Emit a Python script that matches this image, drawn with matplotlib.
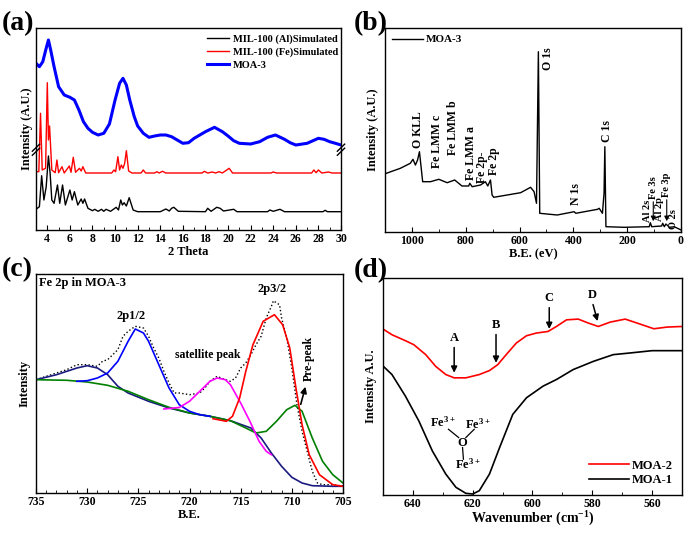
import numpy as np
import matplotlib
matplotlib.use('Agg')
import matplotlib.pyplot as plt
from matplotlib.ticker import MultipleLocator

plt.rcParams['font.family'] = ['Liberation Serif', 'DejaVu Serif']
plt.rcParams['font.weight'] = 'bold'
plt.rcParams['axes.labelweight'] = 'bold'
plt.rcParams['mathtext.default'] = 'regular'
plt.rcParams['axes.linewidth'] = 1.0

#----------------------- (a) XRD data ------------------------
al_x = [3.0, 3.3, 3.5, 3.7, 3.9, 4.1, 4.25, 4.4, 4.6, 4.9, 5.1, 5.35, 5.6, 6.0, 6.2, 6.4,
        6.7, 7.0, 7.15, 7.3, 7.6, 8.0, 8.2, 8.5, 8.8, 9.0, 9.2, 9.6, 10.1, 10.3, 10.5,
        10.65, 10.8, 11.0, 11.25, 11.6, 12.0, 14.0, 14.5, 14.8, 15.0, 15.2, 15.6, 18.0,
        18.2, 18.5, 19.0, 19.3, 19.6, 20.5, 20.8, 23.5, 23.7, 24.0, 24.6, 25.0, 28.4,
        28.6, 28.8, 30.0]
al_y = [20.7, 23.3, 54.3, 30, 43, 74, 56.7, 30, 26.7, 45, 26.7, 45, 25, 40, 30, 38.3,
        25, 31, 26.7, 31, 21.7, 19.3, 20.7, 18.7, 20.7, 18.7, 20.7, 18.7, 22.7, 20, 30,
        25, 27.3, 24, 32.3, 20, 18.3, 18.3, 21, 19, 21.7, 22.7, 18.7, 18.3,
        21.7, 18.7, 22.7, 21.7, 19, 20.7, 18.3, 18.3, 20, 18.7, 20.7, 18.3, 18.3,
        19.7, 18.3, 18.3]

fe_x = [3.0, 3.25, 3.4, 3.55, 3.85, 4.0, 4.1, 4.2, 4.4, 4.7, 4.85, 5.0, 5.3, 5.5, 5.95,
        6.1, 6.3, 6.5, 6.85, 7.0, 7.15, 7.4, 9.7, 9.9, 10.05, 10.25, 10.4, 10.55, 10.7,
        10.85, 11.0, 11.2, 11.5, 12.3, 12.5, 12.7, 13.5, 13.7, 13.9, 14.2, 14.5, 17.7,
        17.9, 18.2, 18.6, 18.9, 19.2, 19.5, 20.1, 20.4, 23.8, 24.0, 24.3, 27.4, 27.6,
        27.8, 28.0, 28.3, 28.9, 29.2, 30.0]
fe_y = [58.3, 58.3, 116.7, 60, 61.7, 147.3, 90, 104, 60, 57.3, 70, 57.3, 63.3, 57, 64,
        57.7, 72.7, 57.7, 61.7, 59, 63.3, 57, 57, 60, 58.3, 73.3, 60, 65, 61.7,
        66.7, 79.3, 59, 57, 57, 60, 57, 57, 58.3, 57, 58.7, 57, 57,
        58.7, 57, 58, 57, 58.3, 57, 61.7, 57, 57, 58, 57, 57, 60,
        57.3, 60, 57, 58, 57, 57]

moa3_x = [3.0, 3.3, 3.6, 3.9, 4.1, 4.3, 4.6, 5.0, 5.5, 6.0, 6.4, 6.8, 7.2, 7.6, 8.0, 8.5,
          9.0, 9.5, 10.0, 10.4, 10.7, 11.0, 11.3, 11.7, 12.0, 12.5, 13.0, 13.5, 14.0,
          14.5, 15.0, 15.5, 16.0, 16.5, 17.0, 17.5, 18.0, 18.8, 19.5, 20.0, 20.5, 21.0,
          22.0, 22.8, 23.5, 24.2, 25.0, 25.5, 26.0, 27.0, 28.0, 28.5, 29.0, 29.5, 30.0]
moa3_y = [166.7, 163.3, 168.3, 181.7, 190, 180, 163.3, 143.3, 135, 132.7, 130, 120, 108.3,
          101.7, 97.7, 95, 96.7, 106, 130, 146.7, 151.7, 145, 130, 113.3, 104, 96.7, 92.7,
          94, 95, 95, 93.3, 90, 86.7, 87.3, 91.7, 95, 98.3, 102.7, 98.3, 94, 89.3, 86.7,
          86, 88.3, 92.7, 95, 90.7, 87.3, 85, 86.7, 91.7, 90.7, 88.3, 86.7, 85]

#----------------------- (b) XPS survey ------------------------
xps_x = [1095, 1043, 1006, 996, 987, 979, 972, 966, 960, 931, 900, 869, 841, 814, 789, 785,
         776, 745, 727, 718, 708, 702, 696, 646, 596, 559, 546, 537, 530, 525, 460, 397,
         391, 310, 304, 292, 286, 283, 279, 211, 118, 114, 109, 72, 68, 62, 56, 43, 25, 0]
xps_y = [58.7, 63.7, 68.7, 72.7, 67, 72, 80.3, 65.3, 50.3, 50.3, 52.7, 49.3, 52, 46, 46, 48.7,
         45.3, 47, 50.3, 46, 52, 37, 34.7, 37, 39.3, 44.7, 40.3, 28.7, 180.3, 18.7, 17, 20.3,
         18.7, 22.7, 23.7, 18.7, 38.7, 85.3, 5.3, 4.7, 5.3, 9.3, 5.3, 6, 8.7, 5.3, 8, 4.7, 5.3, 2]
xps_labels = ['O KLL', 'Fe LMM c', 'Fe LMM b', 'Fe LMM a', 'Fe 2p-', 'Fe 2p', 'O 1s', 'C 1s',
              'N 1s']
xps_lab_x = [978, 908, 846, 782, 741, 695, 493, 276, 390]
xps_lab_y = [84, 64, 77, 52, 49, 57, 162, 90, 27]
# crowded low-energy peaks, smaller text
low_labels = ['Al 2s', 'Fe 3s', 'Al 2p', 'Fe 3p', 'O 2s']
low_lab_x = [125, 103, 80, 53, 27]
low_lab_y = [10, 33, 11, 35, 3]

#----------------------- (c) Fe 2p fit ------------------------
raw_x = [735, 734, 733, 732, 731, 730, 729, 728.5, 728, 727.5, 727, 726.5, 726, 725.3, 724.5,
         724, 723.5, 723, 722.5, 722, 721.5, 721, 720, 719, 718.5, 718, 717.3, 716.5, 716,
         715.5, 715, 714.5, 714, 713.5, 713, 712.5, 712, 711.8, 711.5, 711.2, 711, 710.5,
         710, 709.5, 709, 708.5, 708, 707.5, 707, 706, 705]
raw_y = [113.3, 116.7, 120, 123.3, 128.3, 128.3, 126.7, 131.7, 133.3, 138.3, 143.3, 156.7,
         161.7, 166.7, 165, 156.7, 145, 135, 121.7, 110, 100, 100, 98.3, 100, 105, 111.7,
         116.7, 113.3, 111.7, 115, 125, 130, 138.3, 148.3, 156.7, 175, 186.7, 192.3, 190,
         188.3, 175, 155, 125, 88.3, 61.7, 41.7, 21.7, 10, 8.3, 8.3, 6.7]
bg_x = [735, 733, 731, 730, 729, 728, 727, 726, 724, 722, 720, 718, 716, 714, 713, 712, 711,
        710, 709, 708, 706, 705]
bg_y = [113.3, 118.3, 125, 127.3, 125, 118.3, 106.7, 100, 91.7, 85, 80, 76.7, 72.3, 65, 55,
        40, 26.7, 15.7, 10, 7.3, 6.7, 6.7]
pre_x = [735, 732, 730, 728, 726, 724, 722, 720, 718, 716, 714.5, 713.5, 712.5, 711.5, 710.5,
         709.7, 709, 708, 707, 706, 705]
pre_y = [113.3, 112.7, 111, 107.7, 101.7, 93.3, 85.7, 80, 76.7, 72.3, 65, 60, 61.7, 71.7,
         83.3, 87.7, 81.7, 55, 31.7, 18.3, 10]
p12_x = [731, 730, 729, 728, 727, 726, 725.3, 724.5, 724, 723, 722, 721, 720, 719, 718]
p12_y = [111.7, 112.3, 115, 120, 131.7, 151.7, 164, 160, 151.7, 128.3, 105, 88.3, 81.7,
         78.3, 76.7]
sat_x = [722.5, 721, 720, 719, 718, 717.3, 716.5, 716, 715, 714.1, 713.2, 712.5, 712]
sat_y = [84, 85.5, 91.7, 101.7, 111.7, 115, 113.3, 108.3, 90, 71.7, 51.7, 41.7, 38.3]
p32_x = [717.7, 716.4, 715.8, 715.1, 714.5, 713.8, 712.8, 711.7, 710.9, 710.2, 709.6, 709.0,
         708.3, 707.3, 706, 705]
p32_y = [74.3, 71.7, 76.7, 95, 121.7, 148.3, 171.7, 178.3, 168.3, 145, 105, 68.3, 38.3,
         18.3, 8.3, 6.7]

#----------------------- (d) FTIR ------------------------
ir_x = [650.5, 647, 642.5, 639.7, 635.7, 632.4, 629, 626.2, 622.3, 617.8, 614.4, 611.6,
        608.8, 605.4, 602, 598.7, 594.8, 592, 588.6, 584.7, 581.3, 578, 574, 569, 565,
        559.4, 555, 550]
moa2_y = [166.7, 160, 154, 150, 140, 128.3, 120, 116.7, 116.7, 120, 124, 130, 140, 151.7,
          159, 161.7, 163.3, 168.3, 175, 175.7, 171.7, 168.3, 172.7, 175.7, 171.7, 166,
          167.7, 168.3]
ir1_x = [650.5, 647, 642.5, 638, 633.5, 629, 625.6, 622.3, 620, 617.8, 614.4, 611, 606.6,
         602, 596.5, 592, 586.4, 579.6, 573, 567.3, 560, 550]
moa1_y = [130, 120, 98.3, 73.3, 43.3, 20, 6.7, 0.7, 0, 3.3, 20, 46.7, 80, 96.7, 108.3, 115,
          125, 133.3, 140, 141.7, 144, 144]

fig = plt.figure(figsize=(6.85, 5.4), dpi=100)


def px_box(l, r, t, b):
    return [l / 685, 1 - b / 540, (r - l) / 685, (b - t) / 540]


#---------------------------(a)--------------------------------
ax = fig.add_axes(px_box(36, 341, 28, 230))
ax.plot(al_x, al_y, color='k', lw=1.0, label='MIL-100 (Al)Simulated')
ax.plot(fe_x, fe_y, color='r', lw=1.0, label='MIL-100 (Fe)Simulated')
ax.plot(moa3_x, moa3_y, color='b', lw=2.2, label='MOA-3')
ax.set_xlim(3, 30)
ax.set_ylim(0, 202)
ax.set_yticks([])
ax.xaxis.set_minor_locator(MultipleLocator(1))
ax.set_xticks(np.arange(4, 31, 2))
ax.tick_params(axis='x', which='both', direction='in', labelsize=8.5, pad=2)
ax.tick_params(axis='x', which='minor', length=2)
ax.set_xlabel('2 Theta', fontsize=9, labelpad=1)
ax.set_ylabel('Intensity (A.U.)', fontsize=9, labelpad=2)
ax.legend(loc='upper right', frameon=False, fontsize=7.5, handlelength=2.2,
          handletextpad=0.3, labelspacing=0.35, borderaxespad=0.2, bbox_to_anchor=(1.01, 1.0))
# axis break marks
for xb in (0, 1):
    ax.plot([xb - 0.012, xb + 0.012], [0.37, 0.405], transform=ax.transAxes, color='k',
            lw=1, clip_on=False)
    ax.plot([xb - 0.012, xb + 0.012], [0.39, 0.425], transform=ax.transAxes, color='k',
            lw=1, clip_on=False)
fig.text(0.003, 0.945, '(a)', fontsize=20, fontweight='bold')

#---------------------------(b)--------------------------------
ax = fig.add_axes(px_box(385, 681, 28, 232))
ax.plot(xps_x, xps_y, color='k', lw=1.0, label='MOA-3')
ax.set_xlim(1100, 0)
ax.set_ylim(0, 204)
ax.set_yticks([])
ax.xaxis.set_major_locator(MultipleLocator(200))
ax.xaxis.set_minor_locator(MultipleLocator(100))
ax.tick_params(axis='x', which='both', direction='in', labelsize=8.5, pad=2)
ax.tick_params(axis='x', which='minor', length=2)
ax.set_xlabel('B.E. (eV)', fontsize=9, labelpad=1)
ax.set_ylabel('Intensity (A.U.)', fontsize=9, labelpad=4)
ax.legend(loc='upper left', frameon=False, fontsize=8, handlelength=2.8,
          handletextpad=0.3, borderaxespad=0.2)
for lab, lx, ly in zip(xps_labels, xps_lab_x, xps_lab_y):
    ax.text(lx, ly, lab, rotation=90, ha='center', va='bottom', fontsize=8.5)
for lab, lx, ly in zip(low_labels, low_lab_x, low_lab_y):
    ax.text(lx, ly, lab, rotation=90, ha='center', va='bottom', fontsize=7.5)
ax.annotate('', xy=(103, 8), xytext=(103, 33),
            arrowprops=dict(arrowstyle='-|>', color='k', lw=0.8, mutation_scale=7))
ax.annotate('', xy=(53, 8), xytext=(53, 35),
            arrowprops=dict(arrowstyle='-|>', color='k', lw=0.8, mutation_scale=7))
fig.text(0.517, 0.945, '(b)', fontsize=20, fontweight='bold')

#---------------------------(c)--------------------------------
ax = fig.add_axes(px_box(36, 343, 274, 493))
ax.plot(raw_x, raw_y, color='k', lw=1.0, ls=':')
ax.plot(bg_x, bg_y, color='#1a1a80', lw=1.2)
ax.plot(pre_x, pre_y, color='#008000', lw=1.2)
ax.plot(p12_x, p12_y, color='#0000ff', lw=1.2)
ax.plot(sat_x, sat_y, color='#ff00ff', lw=1.2)
ax.plot(p32_x, p32_y, color='#ff0000', lw=1.2)
ax.set_xlim(735, 705)
ax.set_ylim(0, 219)
ax.set_yticks([])
ax.xaxis.set_major_locator(MultipleLocator(5))
ax.xaxis.set_minor_locator(MultipleLocator(1))
ax.tick_params(axis='x', which='both', direction='in', labelsize=8.5, pad=2)
ax.tick_params(axis='x', which='minor', length=2)
ax.set_xlabel('B.E.', fontsize=9, labelpad=1)
ax.set_ylabel('Intensity', fontsize=9, labelpad=4)
ax.text(734.7, 210, 'Fe 2p in MOA-3', fontsize=9, va='center', ha='left')
ax.text(725.7, 176.7, '2p1/2', fontsize=9, ha='center', va='center')
ax.text(718.2, 137.7, 'satellite peak', fontsize=8.5, ha='center', va='center')
ax.text(711.9, 204.3, '2p3/2', fontsize=9, ha='center', va='center')
ax.text(708.3, 112, 'Pre-peak', fontsize=8.5, rotation=90, ha='center', va='bottom')
ax.annotate('', xy=(708.6, 109), xytext=(709.2, 86),
            arrowprops=dict(arrowstyle='-|>', color='k', lw=1.2, mutation_scale=9))
fig.text(0.003, 0.488, '(c)', fontsize=20, fontweight='bold')

#---------------------------(d)--------------------------------
ax = fig.add_axes(px_box(383, 682, 278, 495))
ax.plot(ir_x, moa2_y, color='r', lw=1.2, label='MOA-2')
ax.plot(ir1_x, moa1_y, color='k', lw=1.2, label='MOA-1')
ax.set_xlim(650, 550)
ax.set_ylim(-1, 217)
ax.set_yticks([])
ax.xaxis.set_major_locator(MultipleLocator(20))
ax.xaxis.set_minor_locator(MultipleLocator(10))
ax.tick_params(axis='x', which='both', direction='in', labelsize=8.5, pad=2)
ax.tick_params(axis='x', which='minor', length=2)
ax.set_xlabel('Wavenumber (cm$^{-1}$)', fontsize=10, labelpad=0)
ax.set_ylabel('Intensity A.U.', fontsize=9, labelpad=4)
ax.legend(loc='lower right', frameon=False, fontsize=9, handlelength=3.2,
          handletextpad=0.3, labelspacing=0.2, borderaxespad=0.3)
arrow_kw = dict(arrowstyle='-|>', color='k', lw=1.1, mutation_scale=9)
for lab, tx, ty, hx, hy in [('A', 626.2, 150, 626.2, 119), ('B', 612.2, 163, 612.2, 129),
                            ('C', 594.4, 190, 594.4, 163), ('D', 580.0, 193, 578.0, 171)]:
    ax.annotate('', xy=(hx, hy), xytext=(tx, ty), arrowprops=arrow_kw)
    ax.text(tx, ty + 1, lab, ha='center', va='bottom', fontsize=9)
ax.text(630.1, 71.7, 'Fe$^{3+}$', ha='center', va='center', fontsize=9)
ax.text(618.3, 70, 'Fe$^{3+}$', ha='center', va='center', fontsize=9)
ax.text(623.6, 51.7, 'O', ha='center', va='center', fontsize=9)
ax.text(621.7, 30, 'Fe$^{3+}$', ha='center', va='center', fontsize=9)
ax.plot([628.1, 624.7], [65, 56.7], color='k', lw=0.9)
ax.plot([622.3, 619.5], [56.7, 65], color='k', lw=0.9)
ax.plot([623.4, 623.1], [46.7, 35], color='k', lw=0.9)
fig.text(0.517, 0.487, '(d)', fontsize=20, fontweight='bold')

fig.savefig('out.png', dpi=100)
